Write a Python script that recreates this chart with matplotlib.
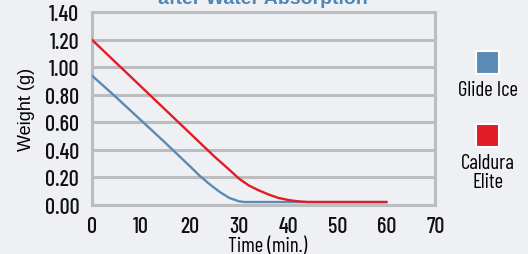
import matplotlib.pyplot as plt
from matplotlib.patches import Rectangle

# Values
glide_t = [0, 5, 10, 15, 20, 22, 24, 26, 28, 30, 31, 40, 50, 60]
glide_w = [0.94, 0.78, 0.615, 0.45, 0.28, 0.21, 0.15, 0.095, 0.05, 0.025, 0.02, 0.02, 0.02, 0.02]
caldura_t = [0, 5, 10, 15, 20, 25, 28, 30, 32, 34, 36, 38, 40, 42, 44, 50, 60]
caldura_w = [1.20, 1.03, 0.86, 0.69, 0.52, 0.35, 0.255, 0.19, 0.14, 0.105, 0.075, 0.05, 0.035, 0.025, 0.02, 0.02, 0.02]
xticks = [0, 10, 20, 30, 40, 50, 60, 70]
yticks = [0.0, 0.2, 0.4, 0.6, 0.8, 1.0, 1.2, 1.4]

blue = '#5a8bb5'
red = '#e21c24'
grid_col = '#bcbdc1'
bg = '#eef0f3'
font = ['Barlow Condensed', 'Archivo Narrow', 'DejaVu Sans']
plt.rcParams['font.family'] = font

fig = plt.figure(figsize=(5.28, 2.55), dpi=100)
fig.patch.set_facecolor(bg)
ax = fig.add_axes([0.1737, 0.193, 0.651, 0.756])
ax.set_facecolor(bg)

for y in yticks:
    ax.axhline(y, color=grid_col, lw=2.2, zorder=1)
ax.plot(glide_t, glide_w, color=blue, lw=1.7, zorder=3)
ax.plot(caldura_t, caldura_w, color=red, lw=1.7, zorder=3)

ax.set_xlim(0, 70)
ax.set_ylim(0, 1.4)
ax.set_xticks(xticks)
ax.set_yticks(yticks)
ax.set_yticklabels([f'{v:.2f}' for v in yticks])
ax.tick_params(length=0, labelsize=16, colors='#111111')
ax.tick_params(axis='x', pad=8)
ax.tick_params(axis='y', pad=9)
for lab in ax.get_xticklabels() + ax.get_yticklabels():
    lab.set_fontweight('medium')
for s in ax.spines.values():
    s.set_color(grid_col)
    s.set_linewidth(2.2)

ax.set_ylabel('Weight (g)', fontsize=13, labelpad=7, family=['Liberation Sans', 'DejaVu Sans'])
fig.text(0.506, 1 - 247 / 255, 'Time (min.)', fontsize=15, ha='center', va='center')

fig.text(0.498, 0.986, 'after Water Absorption', color='#4f86b8', fontsize=14,
         fontweight='bold', ha='center', va='baseline', family=['Liberation Sans', 'DejaVu Sans'])

# legend on the right
for y0, col in [(1 - 75 / 255, blue), (1 - 148 / 255, red)]:
    fig.patches.append(Rectangle((476 / 528, y0), 23 / 528, 23 / 255, transform=fig.transFigure,
                                 facecolor=col, edgecolor='white', lw=1.5))
fig.text(488 / 528, 1 - 90 / 255, 'Glide Ice', fontsize=15, ha='center', va='center')
fig.text(488 / 528, 1 - 173 / 255, 'Caldura\nElite', fontsize=15, ha='center', va='center',
         linespacing=1.0)

fig.savefig('out.png', dpi=100, facecolor=bg)
